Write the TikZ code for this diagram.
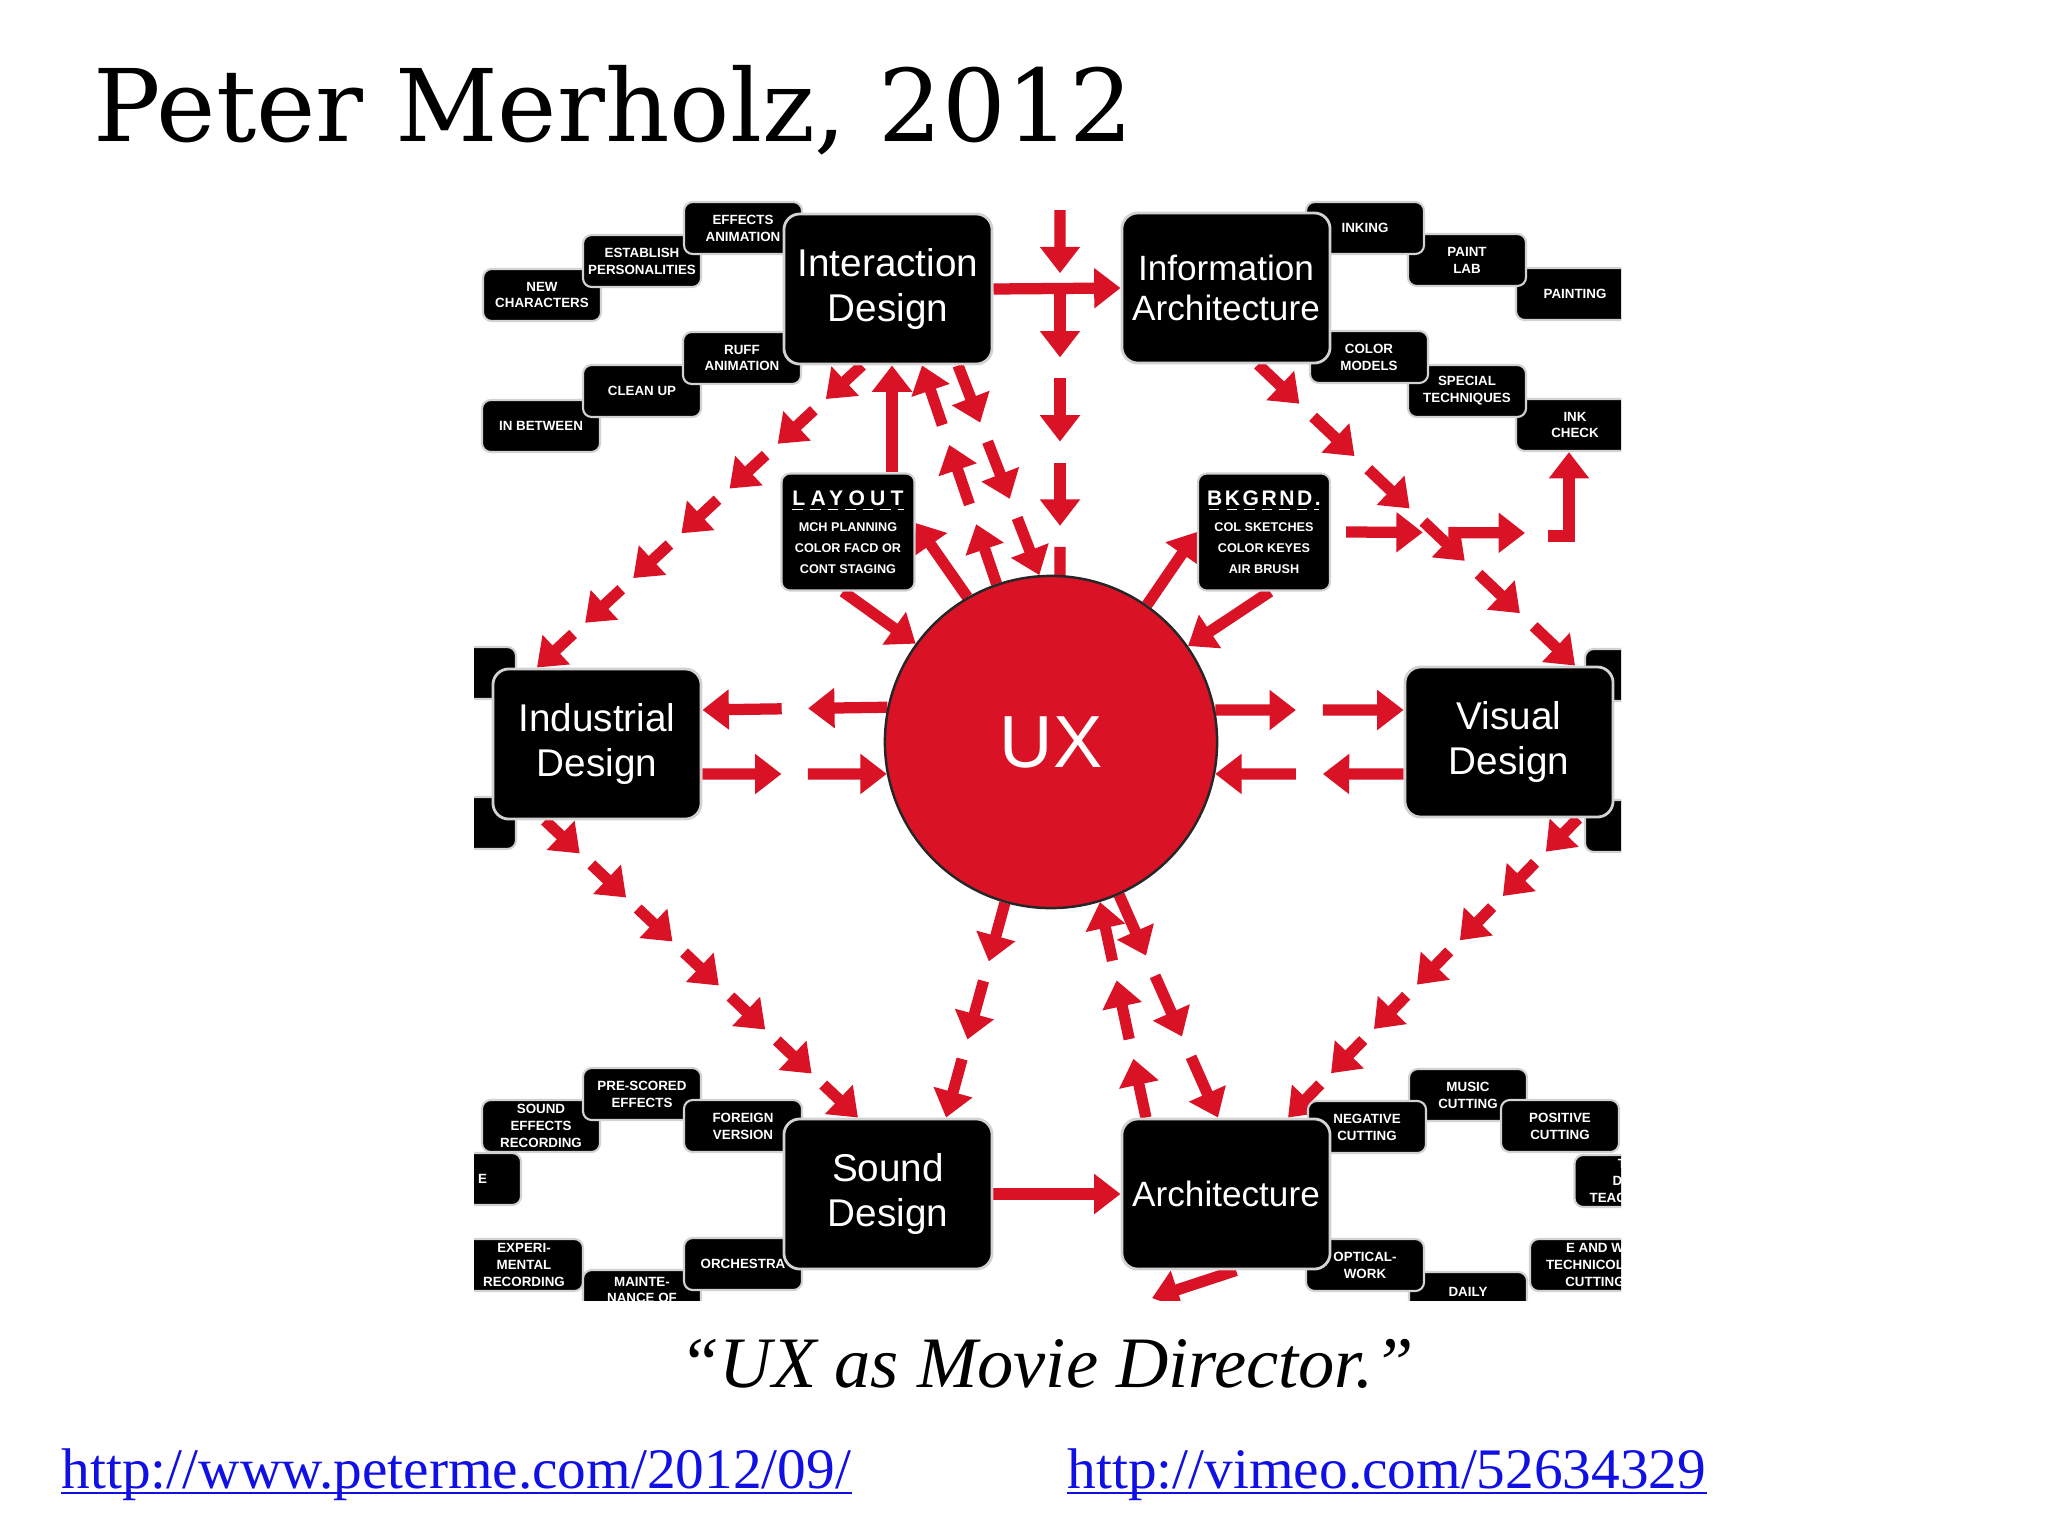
\documentclass[tikz,border=0pt]{standalone}
\usepackage{fontspec}
\setmainfont{Liberation Serif}
\setsansfont{Liberation Sans}
\newfontfamily\titlefont{DejaVu Serif}
\usetikzlibrary{arrows.meta,calc,backgrounds}

\definecolor{uxred}{RGB}{218,18,38}
\definecolor{linkblue}{RGB}{16,16,228}

\tikzset{
  mainbox/.style={fill=black, draw=gray!35, line width=0.8pt, rounded corners=4.5pt,
    minimum width=2.08cm, minimum height=1.5cm, inner sep=2pt, text=white, align=center,
    font=\sffamily\fontsize{11}{12.9}\selectfont},
  subbox/.style={fill=black, draw=gray!35, line width=0.6pt, rounded corners=2.5pt,
    minimum width=1.18cm, minimum height=0.52cm, inner sep=1pt, text=white, align=center,
    font=\sffamily\bfseries\fontsize{3.8}{4.8}\selectfont},
  redarrow/.style={draw=uxred, line width=3.2pt, -{Triangle[width=11pt,length=7.5pt]}},
}

% row of short arrows from #1 to #2, #3 pieces
\newcommand{\redtrail}[3]{%
  \foreach \k in {1,...,#3}{%
    \pgfmathsetmacro\trA{(\k-1)/(#3-0.25)}%
    \pgfmathsetmacro\trB{(\k-0.25)/(#3-0.25)}%
    \draw[redarrow] ($(#1)!\trA!(#2)$) -- ($(#1)!\trB!(#2)$);
  }}

\begin{document}
\begin{tikzpicture}[x=0.01cm, y=-0.01cm]
\useasboundingbox (0,0) rectangle (2048,1536);

\node[anchor=base west, inner sep=0, font=\titlefont\fontsize{28.5}{34}\selectfont] (title) at (93,141) {Peter Merholz, 2012};

\begin{scope}
\clip (474,187) rectangle (1621,1300);
% boxes round Interaction Design
\node[subbox] (newc) at (542,295) {NEW\\CHARACTERS};
\node[subbox] (estp) at (642,261) {ESTABLISH\\PERSONALITIES};
\node[subbox] (effa) at (743,228) {EFFECTS\\ANIMATION};
\node[subbox] (inbt) at (541,426) {IN BETWEEN};
\node[subbox] (clup) at (642,391) {CLEAN UP};
\node[subbox] (rufa) at (742,358) {RUFF\\ANIMATION};
% boxes round Information Architecture
\node[subbox] (pntg) at (1575,294) {PAINTING};
\node[subbox] (pntl) at (1467,260) {PAINT\\LAB};
\node[subbox] (inkg) at (1365,228) {INKING};
\node[subbox] (inkc) at (1575,425) {INK\\CHECK};
\node[subbox] (spct) at (1467,391) {SPECIAL\\TECHNIQUES};
\node[subbox] (colm) at (1369,357) {COLOR\\MODELS};
% boxes round Sound Design
\node[subbox, text width=0.5cm, align=right] (lfte) at (462,1179) {E};
\node[subbox] (snfx) at (541,1126) {SOUND\\EFFECTS\\RECORDING};
\node[subbox] (prsc) at (642,1094) {PRE-SCORED\\EFFECTS};
\node[subbox] (frgn) at (743,1126) {FOREIGN\\VERSION};
\node[subbox] (expr) at (524,1265) {EXPERI-\\MENTAL\\RECORDING};
\node[subbox, minimum height=0.4cm] (mntn) at (642,1290) {MAINTE-\\NANCE OF};
\node[subbox] (orch) at (743,1264) {ORCHESTRA};
% boxes round Architecture
\node[subbox, minimum height=0.4cm] (daly) at (1468,1292) {DAILY};
\node[subbox] (optw) at (1365,1265) {OPTICAL-\\WORK};
\node[subbox, minimum width=1.3cm] (ewtc) at (1595,1265) {E AND W\\TECHNICOLOR\\CUTTING};
\node[subbox, text width=0.48cm, minimum width=0.55cm, align=right] (rbox) at (1602,1181) {T\\DI\\TEAC};
\node[subbox] (musc) at (1468,1095) {MUSIC\\CUTTING};
\node[subbox] (posc) at (1560,1126) {POSITIVE\\CUTTING};
\node[subbox] (negc) at (1367,1127) {NEGATIVE\\CUTTING};
% cut boxes at the sides
\node[subbox, minimum width=0.8cm] (lft1) at (476,673) {};
\node[subbox, minimum width=0.8cm] (lft2) at (476,823) {};
\node[subbox, minimum width=0.8cm] (rgt1) at (1625,675) {};
\node[subbox, minimum width=0.8cm] (rgt2) at (1625,826) {};

\node[subbox, minimum width=1.33cm, minimum height=1.17cm, font=\sffamily\bfseries\fontsize{3.6}{5.9}\selectfont] (layt) at (848,532)
  {{\fontsize{6}{6}\selectfont\addfontfeatures{LetterSpace=25}LAYOUT}\\[1.5pt]MCH PLANNING\\COLOR FACD OR\\CONT STAGING};
\node[subbox, minimum width=1.32cm, minimum height=1.17cm, font=\sffamily\bfseries\fontsize{3.6}{5.9}\selectfont] (bkgd) at (1264,532)
  {{\fontsize{6}{6}\selectfont\addfontfeatures{LetterSpace=12}BKGRND.}\\[1.5pt]COL SKETCHES\\COLOR KEYES\\AIR BRUSH};
\draw[white, densely dashed, line width=0.35pt] ($(layt.north west)+(12,37)$) -- ($(layt.north east)+(-12,37)$);
\draw[white, densely dashed, line width=0.35pt] ($(bkgd.north west)+(12,37)$) -- ($(bkgd.north east)+(-12,37)$);

% main boxes
\node[mainbox] (intd) at (888,289) {Interaction\\Design};
\node[mainbox, font=\sffamily\fontsize{10}{11.5}\selectfont] (info) at (1226,288) {Information\\Architecture};
\node[mainbox] (indd) at (597,744) {Industrial\\Design};
\node[mainbox] (visd) at (1509,742) {Visual\\Design};
\node[mainbox] (sndd) at (888,1194) {Sound\\Design};
\node[mainbox, font=\sffamily\fontsize{10}{11.5}\selectfont] (arch) at (1226,1194) {Architecture};
\node[circle, fill=uxred, draw=black!85, line width=0.7pt, minimum size=3.32cm, inner sep=0,
  text=white, font=\sffamily\fontsize{21}{21}\selectfont] (ux) at (1051,742) {UX};
\end{scope}

% arrow ends
\coordinate (topin) at (1060,210);
\coordinate (topout) at (1060,610);
\coordinate (lu) at ([xshift=0.44cm]layt.north);
\coordinate (lsth) at ([xshift=-0.05cm]layt.south);
\coordinate (bsth) at ([xshift=0.06cm]bkgd.south);
\coordinate (bke) at ([xshift=0.15cm]bkgd.east);
\coordinate (bkx) at (1525,533);
\coordinate (bkl) at (1548,536);
\coordinate (bkup) at ([xshift=-0.06cm]inkc.south);
\coordinate (idu1) at ([xshift=0.34cm]intd.south);
\coordinate (idd1) at ([xshift=0.70cm]intd.south);
\coordinate (idl) at ([xshift=-0.26cm]intd.south);
\coordinate (indn) at ([xshift=-0.60cm]indd.north);
\coordinate (ias) at ([xshift=0.32cm]info.south);
\coordinate (visn) at ([xshift=0.66cm]visd.north);
\coordinate (indu) at ([yshift=0.34cm]indd.east);
\coordinate (indl) at ([yshift=-0.30cm]indd.east);
\coordinate (visu) at ([yshift=0.32cm]visd.west);
\coordinate (visl) at ([yshift=-0.32cm]visd.west);
\coordinate (inds) at ([xshift=-0.52cm]indd.south);
\coordinate (sndn) at ([xshift=-0.30cm]sndd.north);
\coordinate (sndr) at ([xshift=0.58cm]sndd.north);
\coordinate (arcu) at ([xshift=-0.80cm]arch.north);
\coordinate (arcd) at ([xshift=-0.08cm]arch.north);
\coordinate (viss) at ([xshift=0.69cm]visd.south);
\coordinate (arcn) at ([xshift=0.62cm]arch.north);
\coordinate (arcs) at ([xshift=0.10cm]arch.south);
\coordinate (arcx) at (1040,1335);

\begin{pgfonlayer}{background}
\fill[white] (0,0) rectangle (2048,1536);
\begin{scope}
\clip (474,187) rectangle (1621,1300);
\draw[redarrow] (intd.east) -- (info.west);
\draw[redarrow] (sndd.east) -- (arch.west);
\draw[redarrow] (lu) -- (lu |- intd.south);
\draw[redarrow] (ux.120) -- ([yshift=0.09cm]layt.east);
\draw[redarrow] (lsth) -- (ux.144);
\draw[redarrow] (ux.55) -- (bkgd.west);
\draw[redarrow] (bsth) -- (ux.35);
\draw[redarrow] (bkl) -| (bkup);
\redtrail{bke}{bkx}{2}
\redtrail{topin}{topout}{5}
\redtrail{ux.109}{idu1}{3}
\redtrail{idd1}{ux.94}{3}
\redtrail{idl}{indn}{7}
\redtrail{ias}{visn}{6}
\redtrail{ux.168}{indu}{2}
\redtrail{indl}{ux.191}{2}
\redtrail{ux.11}{visu}{2}
\redtrail{visl}{ux.349}{2}
\redtrail{inds}{sndn}{7}
\redtrail{ux.254}{sndr}{3}
\redtrail{arcu}{ux.287}{3}
\redtrail{ux.294}{arcd}{3}
\redtrail{viss}{arcn}{7}
\redtrail{arcs}{arcx}{2}
\end{scope}
\end{pgfonlayer}

\node[anchor=base west, inner sep=0, font=\itshape\fontsize{20.6}{24}\selectfont] (quote) at (679,1387) {“UX as Movie Director.”};
\node[anchor=base west, inner sep=0, text=linkblue, font=\fontsize{16.3}{19}\selectfont] (lnkpost) at (61,1488) {http://www.peterme.com/2012/09/};
\node[anchor=base west, inner sep=0, text=linkblue, font=\fontsize{16.3}{19}\selectfont] (lnkvid) at (1067,1488) {http://vimeo.com/52634329};
\draw[linkblue, line width=0.8pt] ([yshift=-0.05cm]lnkpost.base west) -- ([yshift=-0.05cm]lnkpost.base east);
\draw[linkblue, line width=0.8pt] ([yshift=-0.05cm]lnkvid.base west) -- ([yshift=-0.05cm]lnkvid.base east);
\end{tikzpicture}
\end{document}
